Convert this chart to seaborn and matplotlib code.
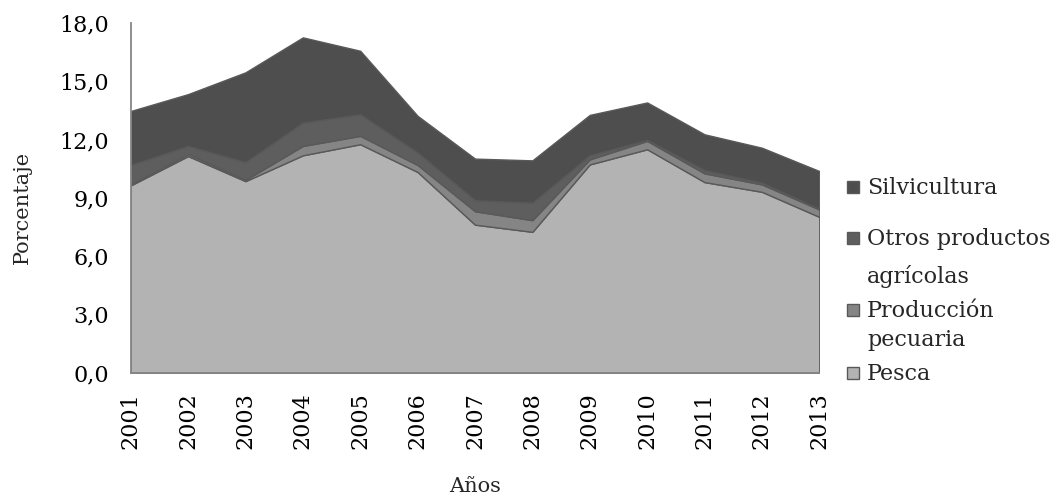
import numpy as np
import matplotlib
matplotlib.use("Agg")
import matplotlib.pyplot as plt
import seaborn as sns
from matplotlib.patches import Rectangle

years = [2001, 2002, 2003, 2004, 2005, 2006, 2007, 2008, 2009, 2010, 2011, 2012, 2013]
pesca = [9.64, 11.15, 9.86, 11.19, 11.76, 10.33, 7.62, 7.25, 10.72, 11.50, 9.81, 9.31, 8.02]
pecuaria = [0.05, 0.10, 0.06, 0.48, 0.43, 0.36, 0.69, 0.60, 0.26, 0.43, 0.45, 0.38, 0.38]
otros = [1.00, 0.42, 0.92, 1.20, 1.11, 0.64, 0.57, 0.90, 0.21, 0.05, 0.17, 0.09, 0.03]
silvicultura = [2.78, 2.67, 4.62, 4.39, 3.27, 1.89, 2.14, 2.18, 2.08, 1.93, 1.84, 1.80, 1.95]

series_names = ["Pesca", "Producción\npecuaria", "Otros productos\nagrícolas", "Silvicultura"]
colors = ["#b3b3b3", "#858585", "#5e5e5e", "#4e4e4e"]
yticks = [0, 3, 6, 9, 12, 15, 18]

W, H = 1060, 497

sns.set_theme(style="white")
plt.rcParams["font.family"] = ["DejaVu Serif"]

fig = plt.figure(figsize=(W / 100, H / 100), dpi=100)
ax = fig.add_axes([130.7 / W, 1 - 372.7 / H, 688.6 / W, 349.7 / H])

ax.stackplot(years, pesca, pecuaria, otros, silvicultura,
             colors=colors, edgecolor="#595959", linewidth=1.0)

ax.set_xlim(years[0], years[-1])
ax.set_ylim(0, 18)
ax.set_yticks(yticks)
ax.set_yticklabels([f"{v:.1f}".replace(".", ",") for v in yticks], fontsize=16)
ax.set_xticks(years)
ax.set_xticklabels([str(y) for y in years], rotation=90, fontsize=16)

for side in ["top", "right"]:
    ax.spines[side].set_visible(False)
for side in ["left", "bottom"]:
    ax.spines[side].set_color("#868686")
    ax.spines[side].set_linewidth(1.3)
ax.tick_params(axis="y", direction="in", length=7, width=1.2, color="#868686",
               pad=15.5, labelcolor="black")
ax.tick_params(axis="x", direction="in", length=4, width=1.2, color="#868686",
               pad=14, labelcolor="black")

fig.text(22 / W, 1 - 207 / H, "Porcentaje", rotation=90, ha="center", va="center",
         fontsize=15)
fig.text(475 / W, 1 - 487 / H, "Años", ha="center", va="center", fontsize=15)

# legend drawn by hand so the square sits on the first line (like Excel)
# baselines in pixels for each line, top entry first
leg_baselines = [[194], [245, 283], [317, 346], [380]]
for (name, col), lines_y in zip(zip(series_names[::-1], colors[::-1]), leg_baselines):
    y0 = lines_y[0]
    fig.add_artist(Rectangle((847 / W, 1 - (y0 - 1) / H), 12 / W, 12 / H,
                             transform=fig.transFigure, facecolor=col,
                             edgecolor="#595959", linewidth=1.0))
    for line, yb in zip(name.split("\n"), lines_y):
        fig.text(867 / W, 1 - yb / H, line, ha="left", va="baseline", fontsize=16)

fig.savefig("out.png", dpi=100)
